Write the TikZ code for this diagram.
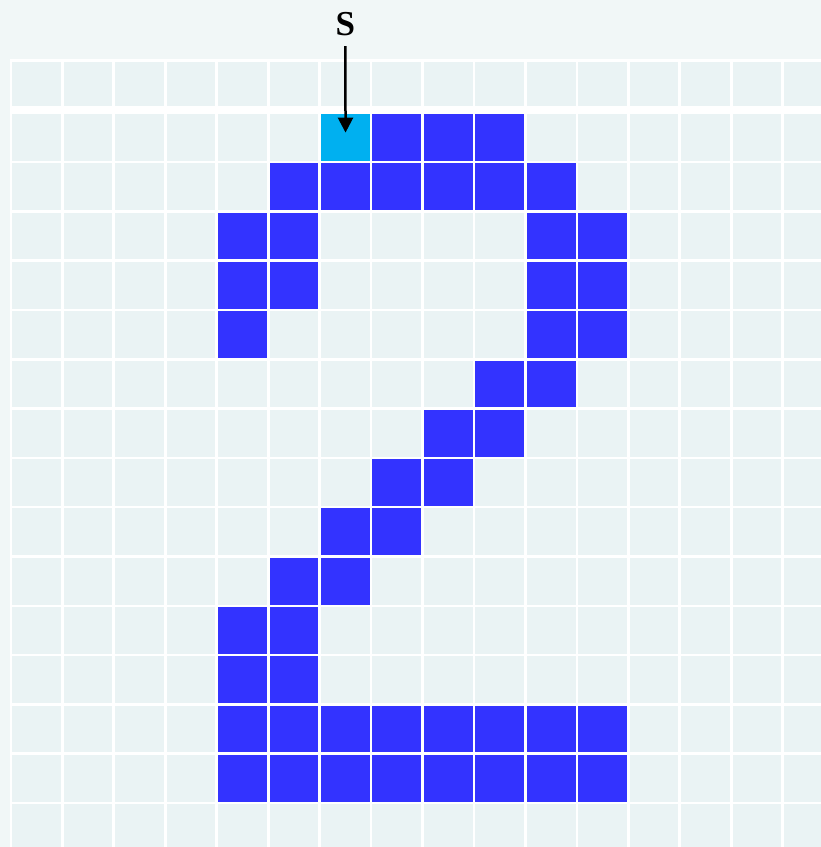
\documentclass[tikz,border=0pt]{standalone}
\usepackage{fontspec}
\setmainfont{Liberation Serif}
\usetikzlibrary{arrows.meta}
\definecolor{pageBg}{RGB}{241,247,247}
\definecolor{cellBg}{RGB}{234,243,244}
\definecolor{pixBlue}{RGB}{51,51,255}
\definecolor{startCyan}{RGB}{0,176,240}

\begin{document}
\begin{tikzpicture}[
    x=1pt, y=-1pt,
    pix/.style={fill=pixBlue},
    free/.style={fill=cellBg},
    startpix/.style={rectangle, fill=startCyan, anchor=north west, inner sep=0pt,
                     minimum width=48.7pt, minimum height=46.8pt},
    label/.style={inner sep=0pt, anchor=base, font=\fontsize{35}{35}\selectfont\bfseries},
    arrow/.style={-{Triangle[length=15pt, width=15pt]}, line width=2.5pt},
  ]
    \useasboundingbox (0,0) rectangle (821,847);
    \clip (0,0) rectangle (821,847);
    \fill[pageBg] (0,0) rectangle (821,847);
    \fill[white] (10,59) rectangle (821,847);

    % header row
    \foreach \c in {0,...,15}
      \fill[free] ({12.3+51.45*\c},62) rectangle ++(48.7,44);

    % main grid
    \foreach \r in {0,...,14}
      \foreach \c in {0,...,15}
        \fill[free] ({12.3+51.45*\c},{114+49.3*\r}) rectangle ++(48.7,46.8);

    % the digit, row / first col / last col
    \foreach \r/\a/\b in {0/7/9, 1/5/10, 2/4/5, 2/10/11, 3/4/5, 3/10/11, 4/4/4,
                          4/10/11, 5/9/10, 6/8/9, 7/7/8, 8/6/7, 9/5/6, 10/4/5,
                          11/4/5, 12/4/11, 13/4/11}
      \foreach \c in {\a,...,\b}
        \fill[pix] ({12.3+51.45*\c},{114+49.3*\r}) rectangle ++(48.7,46.8);

    % start pixel
    \node[startpix] (start) at ({12.3+51.45*6},114) {};
    \node[label] (S) at ({12.3+51.45*6+24.35},35.5) {S};
    \draw[arrow, shorten <=10pt, shorten >=5pt] (S.south) -- (start.center);
\end{tikzpicture}
\end{document}
